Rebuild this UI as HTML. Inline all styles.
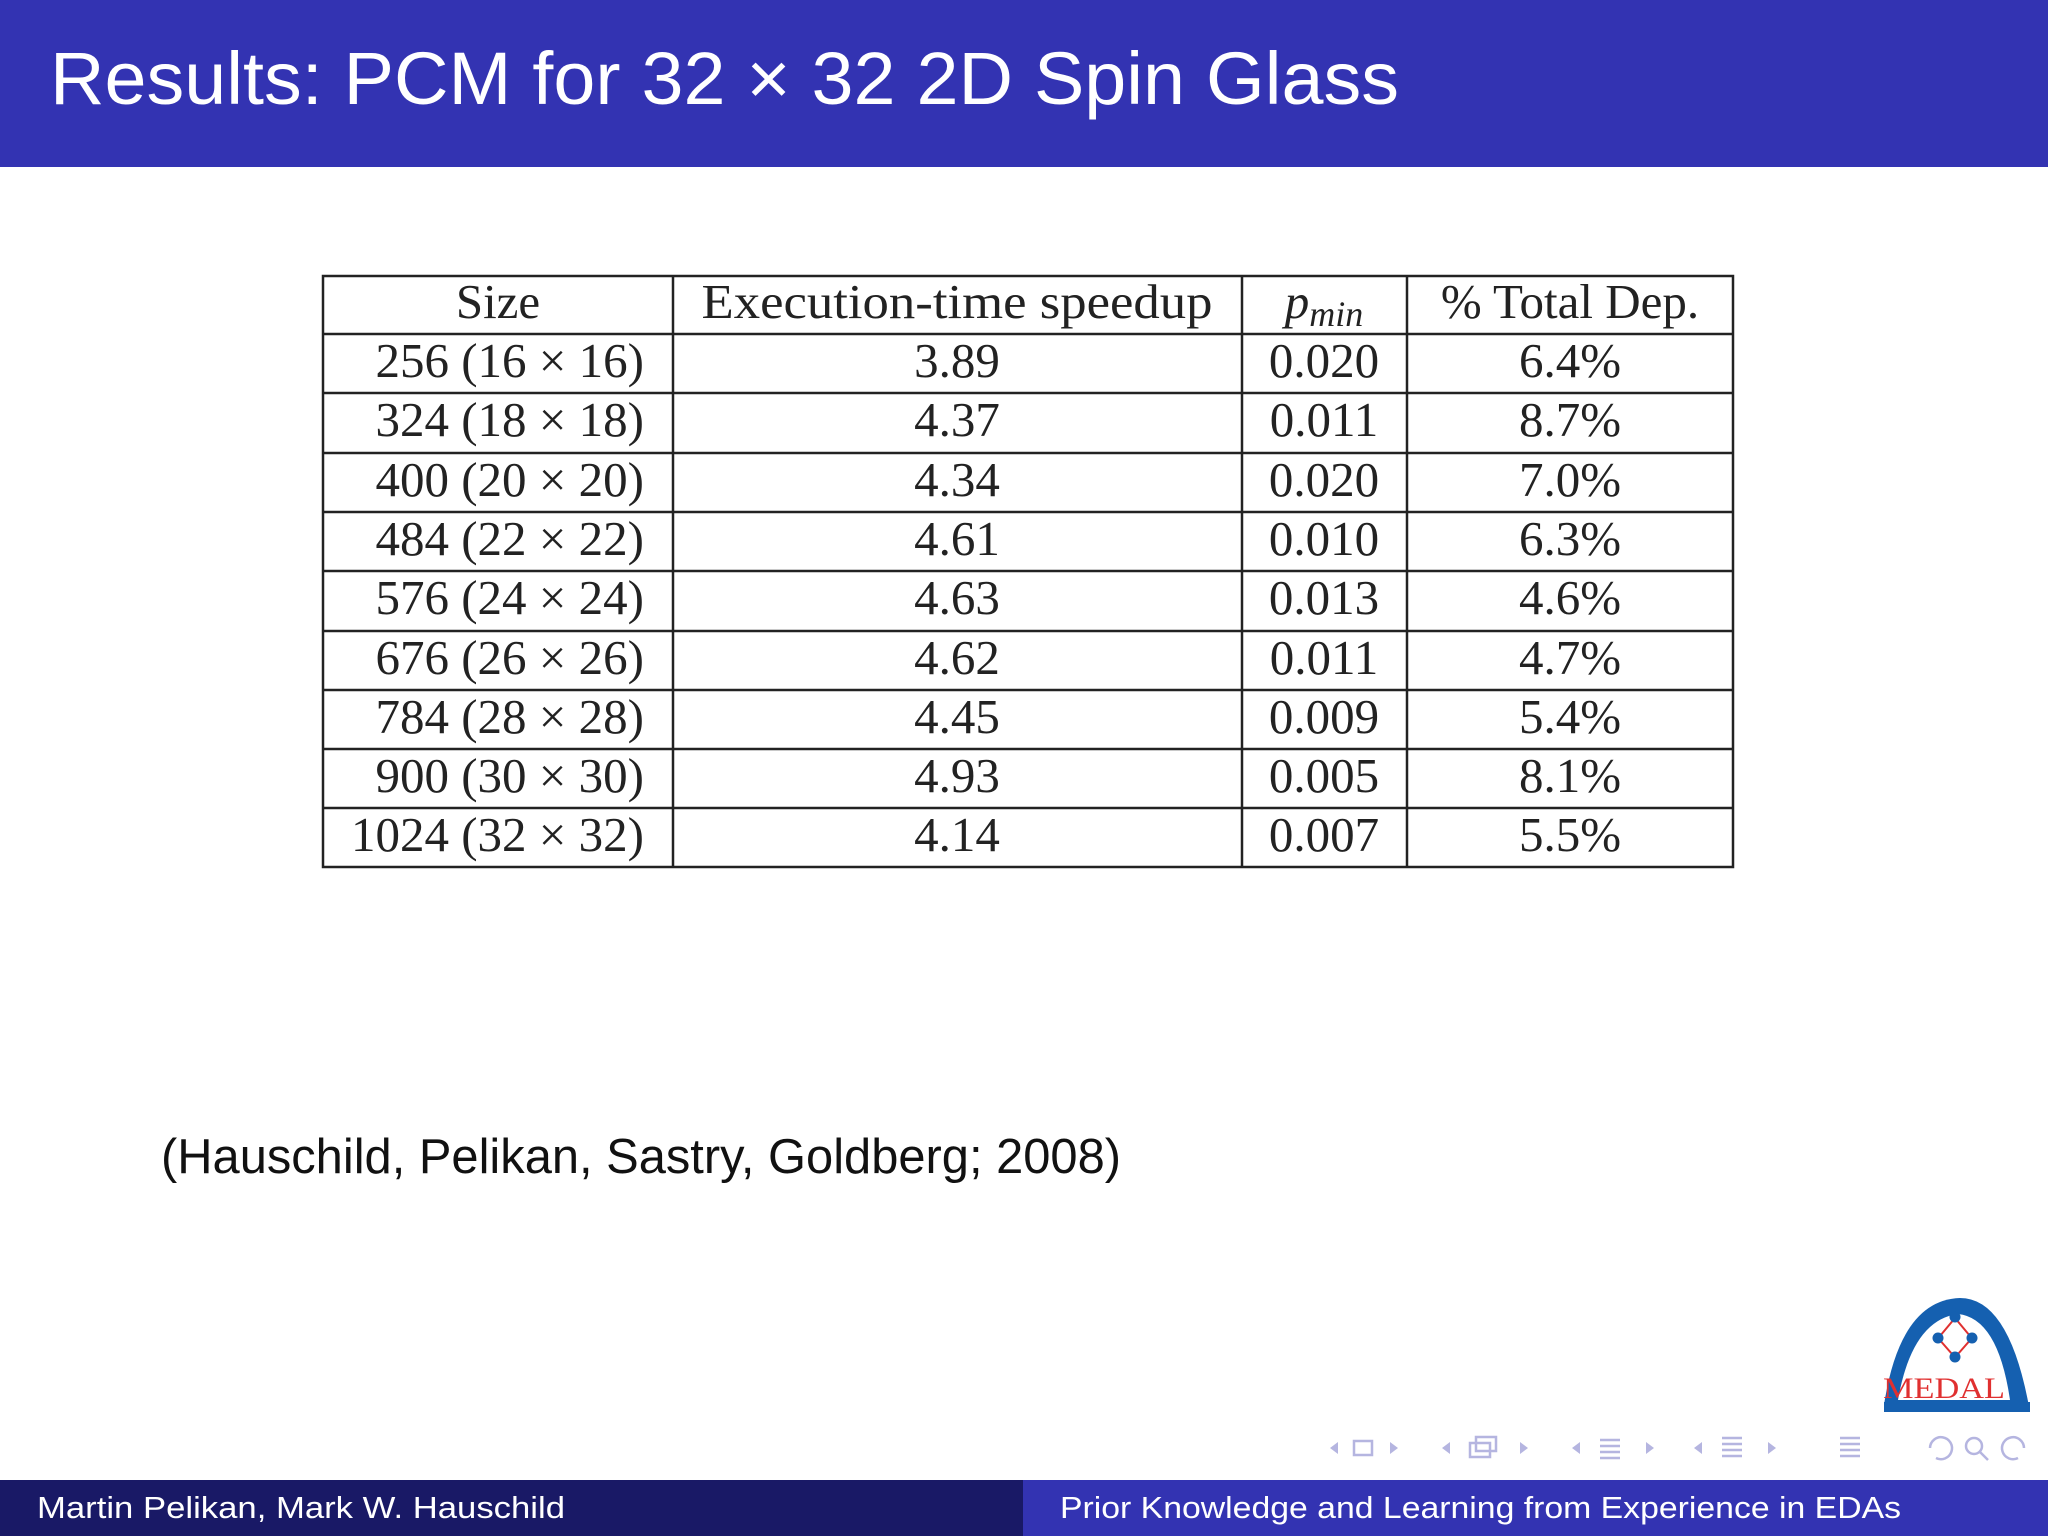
<!DOCTYPE html>
<html><head><meta charset="utf-8"><style>
html,body{margin:0;padding:0;background:#fff}
svg{display:block}
</style></head><body>
<svg width="2048" height="1536" viewBox="0 0 2048 1536" xmlns="http://www.w3.org/2000/svg">
<rect x="0" y="0" width="2048" height="167" fill="#3333b2"/>
<text x="50" y="104" font-family="Liberation Sans, sans-serif" font-size="74" fill="#fff" textLength="1349" lengthAdjust="spacingAndGlyphs">Results:  PCM for 32 × 32 2D Spin Glass</text>

<g stroke="#222" stroke-width="2.5" fill="none">
<rect x="323" y="276" width="1410" height="591"/>
<line x1="673" y1="276" x2="673" y2="867"/>
<line x1="1242" y1="276" x2="1242" y2="867"/>
<line x1="1407" y1="276" x2="1407" y2="867"/>
<line x1="323" y1="334" x2="1733" y2="334"/>
<line x1="323" y1="393" x2="1733" y2="393"/>
<line x1="323" y1="453" x2="1733" y2="453"/>
<line x1="323" y1="512" x2="1733" y2="512"/>
<line x1="323" y1="571" x2="1733" y2="571"/>
<line x1="323" y1="631" x2="1733" y2="631"/>
<line x1="323" y1="690" x2="1733" y2="690"/>
<line x1="323" y1="749" x2="1733" y2="749"/>
<line x1="323" y1="808" x2="1733" y2="808"/>
</g>
<g font-family="Liberation Serif, serif" font-size="49" fill="#222">
<text x="498" y="318" text-anchor="middle">Size</text>
<text x="957" y="318" text-anchor="middle" textLength="511" lengthAdjust="spacingAndGlyphs">Execution-time speedup</text>
<text x="1324" y="318" text-anchor="middle"><tspan font-style="italic">p</tspan><tspan font-style="italic" font-size="36" dy="8">min</tspan></text>
<text x="1570" y="318" text-anchor="middle">% Total Dep.</text>
<g text-anchor="end">
<text x="644" y="377">256 (16 × 16)</text>
<text x="644" y="436">324 (18 × 18)</text>
<text x="644" y="496">400 (20 × 20)</text>
<text x="644" y="555">484 (22 × 22)</text>
<text x="644" y="614">576 (24 × 24)</text>
<text x="644" y="674">676 (26 × 26)</text>
<text x="644" y="733">784 (28 × 28)</text>
<text x="644" y="792">900 (30 × 30)</text>
<text x="644" y="851">1024 (32 × 32)</text>
</g>
<g text-anchor="middle">
<text x="957" y="377">3.89</text><text x="957" y="436">4.37</text><text x="957" y="496">4.34</text>
<text x="957" y="555">4.61</text><text x="957" y="614">4.63</text><text x="957" y="674">4.62</text>
<text x="957" y="733">4.45</text><text x="957" y="792">4.93</text><text x="957" y="851">4.14</text>
</g>
<g text-anchor="middle">
<text x="1324" y="377">0.020</text><text x="1324" y="436">0.011</text><text x="1324" y="496">0.020</text>
<text x="1324" y="555">0.010</text><text x="1324" y="614">0.013</text><text x="1324" y="674">0.011</text>
<text x="1324" y="733">0.009</text><text x="1324" y="792">0.005</text><text x="1324" y="851">0.007</text>
</g>
<g text-anchor="middle">
<text x="1570" y="377">6.4%</text><text x="1570" y="436">8.7%</text><text x="1570" y="496">7.0%</text>
<text x="1570" y="555">6.3%</text><text x="1570" y="614">4.6%</text><text x="1570" y="674">4.7%</text>
<text x="1570" y="733">5.4%</text><text x="1570" y="792">8.1%</text><text x="1570" y="851">5.5%</text>
</g>
</g>

<text x="161" y="1173" font-family="Liberation Sans, sans-serif" font-size="49" fill="#111" textLength="960" lengthAdjust="spacingAndGlyphs">(Hauschild, Pelikan, Sastry, Goldberg; 2008)</text>

<g>
<path d="M1884 1412 L1884 1405 Q1900 1300 1960 1298 Q2010 1298 2030 1412 Z" fill="#1560b0"/>
<path d="M1898 1400 Q1912 1320 1958 1314 Q1998 1318 2010 1400 Z" fill="#fff"/>
<rect x="1884" y="1402" width="146" height="10" fill="#1560b0"/>
<g stroke="#e03030" stroke-width="2"><line x1="1955" y1="1318" x2="1940" y2="1336"/><line x1="1955" y1="1318" x2="1970" y2="1336"/><line x1="1938" y1="1338" x2="1952" y2="1354"/><line x1="1972" y1="1338" x2="1958" y2="1354"/></g>
<circle cx="1955" cy="1317" r="5.5" fill="#1560b0"/><circle cx="1938" cy="1338" r="5.5" fill="#1560b0"/>
<circle cx="1972" cy="1338" r="5.5" fill="#1560b0"/><circle cx="1955" cy="1357" r="5.5" fill="#1560b0"/>
<text x="1883" y="1398" font-family="Liberation Serif, serif" font-size="30" fill="#e03030" textLength="122" lengthAdjust="spacingAndGlyphs">MEDAL</text>
</g>

<g fill="none" stroke="#b5b5e0" stroke-width="2.5">
<rect x="1354" y="1441" width="18" height="14"/><path d="M1330 1448 l8 -6 v12z M1398 1448 l-8 -6 v12z" fill="#b5b5e0" stroke="none"/>
<rect x="1470" y="1443" width="20" height="14"/><rect x="1476" y="1437" width="20" height="14"/><path d="M1442 1448 l8 -6 v12z M1528 1448 l-8 -6 v12z" fill="#b5b5e0" stroke="none"/>
<path d="M1600 1440 h20 M1600 1446 h20 M1600 1452 h20 M1600 1458 h20"/><path d="M1572 1448 l8 -6 v12z M1654 1448 l-8 -6 v12z" fill="#b5b5e0" stroke="none"/>
<path d="M1722 1438 h20 M1722 1444 h20 M1722 1450 h20 M1722 1456 h20"/><path d="M1694 1448 l8 -6 v12z M1776 1448 l-8 -6 v12z" fill="#b5b5e0" stroke="none"/>
<path d="M1840 1438 h20 M1840 1444 h20 M1840 1450 h20 M1840 1456 h20"/>
<path d="M1930 1448 a11 11 0 1 1 6 10"/><circle cx="1974" cy="1446" r="8"/><line x1="1980" y1="1452" x2="1988" y2="1460"/><path d="M2024 1448 a11 11 0 1 0 -6 10"/>
</g>

<rect x="0" y="1480" width="1023" height="56" fill="#191966"/>
<rect x="1023" y="1480" width="1025" height="56" fill="#3333b2"/>
<text x="37" y="1518" font-family="Liberation Sans, sans-serif" font-size="31" fill="#fff" textLength="528" lengthAdjust="spacingAndGlyphs">Martin Pelikan, Mark W. Hauschild</text>
<text x="1060" y="1518" font-family="Liberation Sans, sans-serif" font-size="31" fill="#fff" textLength="841" lengthAdjust="spacingAndGlyphs">Prior Knowledge and Learning from Experience in EDAs</text>
</svg>
</body></html>
